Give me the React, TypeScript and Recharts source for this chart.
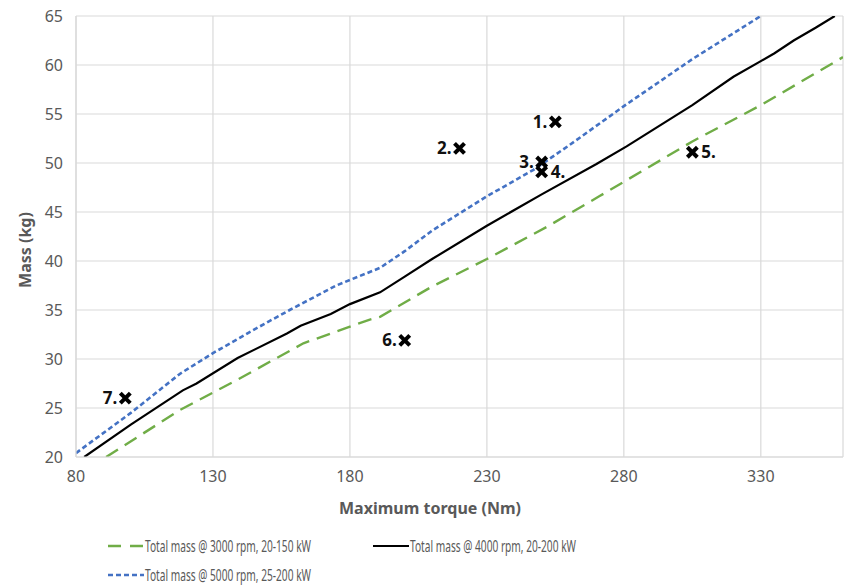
import {
  CartesianGrid,
  ComposedChart,
  Legend,
  Line,
  Scatter,
  XAxis,
  YAxis,
} from "recharts";

type Pt = { torque: number; mass: number };

const torqueTicks = [80, 130, 180, 230, 280, 330];
const massTicks = [20, 25, 30, 35, 40, 45, 50, 55, 60, 65];

const mass3000: Pt[] = [
  { torque: 91, mass: 20 },
  { torque: 118, mass: 24.8 },
  { torque: 139, mass: 27.9 },
  { torque: 163, mass: 31.6 },
  { torque: 187, mass: 34 },
  { torque: 191, mass: 34.3 },
  { torque: 210, mass: 37.4 },
  { torque: 230, mass: 40.2 },
  { torque: 252, mass: 43.5 },
  { torque: 271, mass: 46.6 },
  { torque: 305, mass: 52.2 },
  { torque: 330, mass: 55.9 },
  { torque: 360, mass: 60.8 },
];

const mass4000: Pt[] = [
  { torque: 83, mass: 20 },
  { torque: 100, mass: 23.3 },
  { torque: 119, mass: 26.8 },
  { torque: 124, mass: 27.5 },
  { torque: 139, mass: 30.1 },
  { torque: 157, mass: 32.6 },
  { torque: 162, mass: 33.4 },
  { torque: 173, mass: 34.6 },
  { torque: 180, mass: 35.6 },
  { torque: 191, mass: 36.8 },
  { torque: 200, mass: 38.4 },
  { torque: 210, mass: 40.2 },
  { torque: 230, mass: 43.6 },
  { torque: 250, mass: 46.8 },
  { torque: 270, mass: 49.9 },
  { torque: 281, mass: 51.7 },
  { torque: 305, mass: 55.9 },
  { torque: 320, mass: 58.8 },
  { torque: 330, mass: 60.4 },
  { torque: 335, mass: 61.2 },
  { torque: 342, mass: 62.5 },
  { torque: 350, mass: 63.8 },
  { torque: 357, mass: 65 },
];

const mass5000: Pt[] = [
  { torque: 80, mass: 20.4 },
  { torque: 100, mass: 24.5 },
  { torque: 118, mass: 28.5 },
  { torque: 130, mass: 30.6 },
  { torque: 145, mass: 33 },
  { torque: 158, mass: 35 },
  { torque: 175, mass: 37.5 },
  { torque: 191, mass: 39.3 },
  { torque: 200, mass: 41 },
  { torque: 210, mass: 43.1 },
  { torque: 230, mass: 46.6 },
  { torque: 247, mass: 49.3 },
  { torque: 260, mass: 51.8 },
  { torque: 280, mass: 55.8 },
  { torque: 305, mass: 60.6 },
  { torque: 330, mass: 65 },
];

const prototypes = [
  { label: "1.", torque: 255, mass: 54.2 },
  { label: "2.", torque: 220, mass: 51.5 },
  { label: "3.", torque: 250, mass: 50.1 },
  { label: "4.", torque: 250, mass: 49.1 },
  { label: "5.", torque: 305, mass: 51.1 },
  { label: "6.", torque: 200, mass: 31.9 },
  { label: "7.", torque: 98, mass: 26 },
];

// labels drawn on the right side of the marker
const rightLabels = ["4.", "5."];

const FONT = "'Noto Sans', sans-serif";
const GREY = "#595959";

function CrossMark(props: any) {
  const { cx, cy, payload } = props;
  const s = 5;
  const right = rightLabels.includes(payload.label);
  return (
    <g>
      <line x1={cx - s} y1={cy - s} x2={cx + s} y2={cy + s} stroke="#000" strokeWidth={4} />
      <line x1={cx - s} y1={cy + s} x2={cx + s} y2={cy - s} stroke="#000" strokeWidth={4} />
      <text
        x={right ? cx + 9 : cx - 8}
        y={cy + 6}
        textAnchor={right ? "start" : "end"}
        fontFamily={FONT}
        fontWeight={700}
        fontSize={17}
        fill="#111"
      >
        {payload.label}
      </text>
    </g>
  );
}

function LegendBlock() {
  const items = [
    { x: 108, y: 546, label: "Total mass @ 3000 rpm, 20-150 kW", color: "#70ad47", dash: "13 9", w: 2.4 },
    { x: 373, y: 546, label: "Total mass @ 4000 rpm, 20-200 kW", color: "#000", dash: undefined, w: 2.2 },
    { x: 108, y: 575, label: "Total mass @ 5000 rpm, 25-200 kW", color: "#4472c4", dash: "5 3", w: 2.6 },
  ];
  return (
    <svg width={844} height={586} style={{ position: "absolute", left: 0, top: 0 }}>
      {items.map((it) => (
        <g key={it.label}>
          <line x1={it.x} x2={it.x + 36} y1={it.y} y2={it.y} stroke={it.color} strokeWidth={it.w} strokeDasharray={it.dash} />
          <text
            x={it.x + 37}
            y={it.y + 5.5}
            fontFamily={FONT}
            fontSize={15.5}
            fill={GREY}
            textLength={166}
            lengthAdjust="spacingAndGlyphs"
          >
            {it.label}
          </text>
        </g>
      ))}
    </svg>
  );
}

export default function App() {
  return (
    <div style={{ position: "absolute", left: 0, top: 0, width: 844, height: 586, background: "#fff" }}>
      <ComposedChart width={844} height={586} margin={{ top: 16, right: 1, left: 0, bottom: 89 }}>
        <CartesianGrid stroke="#d9d9d9" strokeWidth={1.2} />
        <XAxis
          dataKey="torque"
          type="number"
          domain={[80, 360]}
          ticks={torqueTicks}
          allowDataOverflow
          height={40}
          tickLine={false}
          tickSize={0}
          tickMargin={14}
          axisLine={{ stroke: "#d9d9d9", strokeWidth: 1.2 }}
          tick={{ fill: GREY, fontSize: 16, fontFamily: FONT }}
          label={{
            content: () => (
              <text x={430} y={514} textAnchor="middle" fontFamily={FONT} fontWeight={700} fontSize={16} fill={GREY}>
                Maximum torque (Nm)
              </text>
            ),
          }}
        />
        <YAxis
          dataKey="mass"
          type="number"
          domain={[20, 65]}
          ticks={massTicks}
          allowDataOverflow
          width={76}
          tickLine={false}
          tickSize={0}
          tickMargin={13}
          axisLine={{ stroke: "#d9d9d9", strokeWidth: 1.2 }}
          tick={{ fill: GREY, fontSize: 16, fontFamily: FONT }}
          label={{
            content: () => (
              <text
                x={0}
                y={0}
                transform="translate(31 250) rotate(-90)"
                textAnchor="middle"
                fontFamily={FONT}
                fontWeight={700}
                fontSize={16}
                fill={GREY}
              >
                Mass (kg)
              </text>
            ),
          }}
        />
        <Line
          data={mass3000}
          dataKey="mass"
          type="linear"
          stroke="#70ad47"
          strokeWidth={2.4}
          strokeDasharray="14 8"
          dot={false}
          isAnimationActive={false}
        />
        <Line
          data={mass4000}
          dataKey="mass"
          type="linear"
          stroke="#000"
          strokeWidth={2.2}
          dot={false}
          isAnimationActive={false}
        />
        <Line
          data={mass5000}
          dataKey="mass"
          type="linear"
          stroke="#4472c4"
          strokeWidth={2.6}
          strokeDasharray="5 3"
          dot={false}
          isAnimationActive={false}
        />
        <Scatter data={prototypes} dataKey="mass" shape={CrossMark} isAnimationActive={false} />
        <Legend
          layout="horizontal"
          verticalAlign="middle"
          align="center"
          wrapperStyle={{ left: 0, top: 0, width: 844, height: 586, pointerEvents: "none" }}
          content={() => <LegendBlock />}
        />
      </ComposedChart>
    </div>
  );
}
